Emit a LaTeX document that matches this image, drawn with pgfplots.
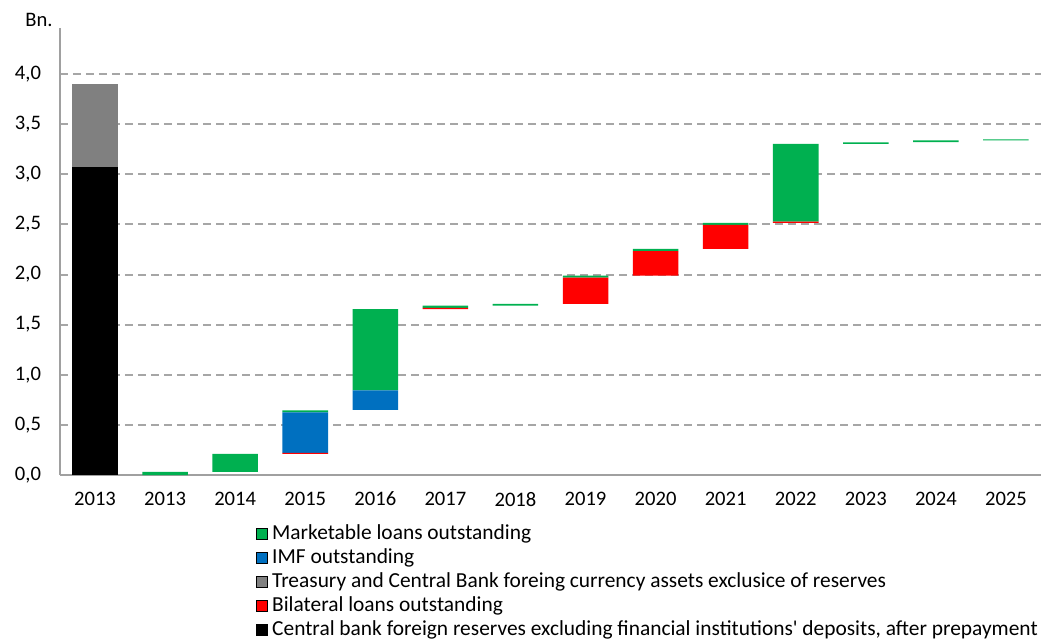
\documentclass[border=0pt]{standalone}
\usepackage{fontspec}
\setmainfont{Carlito}
\usepackage{pgfplots}
\pgfplotsset{compat=1.18}
\usepackage{pgfplotstable}

\definecolor{mgreen}{HTML}{00B050}
\definecolor{mblue}{HTML}{0070C0}
\definecolor{mgray}{HTML}{808080}
\definecolor{mred}{HTML}{FF0000}
\definecolor{gridgray}{HTML}{A6A6A6}
\definecolor{axgray}{HTML}{A0A0A0}

% base is the invisible offset of each floating bar
\pgfplotstableread{
x base  black gray  red   blue  green
0  0     3.07 0.83  0     0     0
1  0     0    0     0     0     0.03
2  0.03  0    0     0     0     0.18
3  0.21  0    0     0.01  0.405 0.02
4  0.65  0    0     0     0.195 0.81
5  1.655 0    0     0.012 0     0.023
6  1.69  0    0     0     0     0.018
7  1.708 0    0     0.262 0     0.02
8  1.99  0    0     0.245 0     0.022
9  2.257 0    0     0.238 0     0.02
10 2.515 0    0     0.012 0     0.778
11 3.305 0    0     0     0     0.015
12 3.322 0    0     0     0     0.016
13 3.34  0    0     0     0     0.008
}\waterfall

\begin{document}
\begin{tikzpicture}
\begin{axis}[
    scale only axis,
    width=490.5pt, height=223.5pt,
    ybar stacked,
    bar width=0.65,
    xmin=-0.5, xmax=13.5,
    ymin=0, ymax=4.46,
    xtick={0,...,13},
    xticklabels={2013,2013,2014,2015,2016,2017,2018,2019,2020,2021,2022,2023,2024,2025},
    ytick={0,0.5,...,4.0},
    axis x line=bottom, axis y line=left,
    axis line style={-, draw=axgray, line width=1pt},
    major tick length=0pt,
    ymajorgrids,
    grid style={draw=gridgray, line width=1pt, dash pattern=on 4pt off 2.5pt},
    tick label style={font=\fontsize{10.3}{12}\selectfont},
    xticklabel style={yshift=-5pt},
    yticklabel style={xshift=-6pt},
    /pgf/number format/.cd, fixed, fixed zerofill, precision=1, use comma, assume math mode=true,
    /pgfplots/.cd,
    legend image code/.code={\fill[#1] (0pt,-2.75pt) rectangle (5.5pt,2.75pt);},
    legend style={draw=none, fill=none, inner sep=0pt, anchor=north west,
        at={(0.1998,-0.1096)}, font=\fontsize{10.7}{12}\selectfont,
        row sep=2pt, column sep=2pt,
        nodes={inner sep=0pt, text height=7.5pt, text depth=2.5pt}},
    legend cell align=left,
]
\addplot[draw=none, fill=none, forget plot] table[x=x, y=base] {\waterfall};
\addplot[draw=none, fill=black, forget plot] table[x=x, y=black] {\waterfall};
\addplot[draw=none, fill=mgray, forget plot] table[x=x, y=gray] {\waterfall};
\addplot[draw=none, fill=mred, forget plot] table[x=x, y=red] {\waterfall};
\addplot[draw=none, fill=mblue, forget plot] table[x=x, y=blue] {\waterfall};
\addplot[draw=none, fill=mgreen, forget plot] table[x=x, y=green] {\waterfall};

\addlegendimage{fill=mgreen}
\addlegendentry{Marketable loans outstanding}
\addlegendimage{fill=mblue}
\addlegendentry{IMF outstanding}
\addlegendimage{fill=mgray}
\addlegendentry{Treasury and Central Bank foreing currency assets exclusice of reserves}
\addlegendimage{fill=mred}
\addlegendentry{Bilateral loans outstanding}
\addlegendimage{fill=black}
\addlegendentry{Central bank foreign reserves excluding financial institutions\textquotesingle{} deposits, after prepayment}
\end{axis}
\node[font=\fontsize{10.3}{12}\selectfont] at (-10.5pt,227.5pt) {Bn.};
\pgfresetboundingbox
\useasboundingbox (-30pt,-82pt) rectangle (490.5pt,237.5pt);
\end{tikzpicture}
\end{document}
